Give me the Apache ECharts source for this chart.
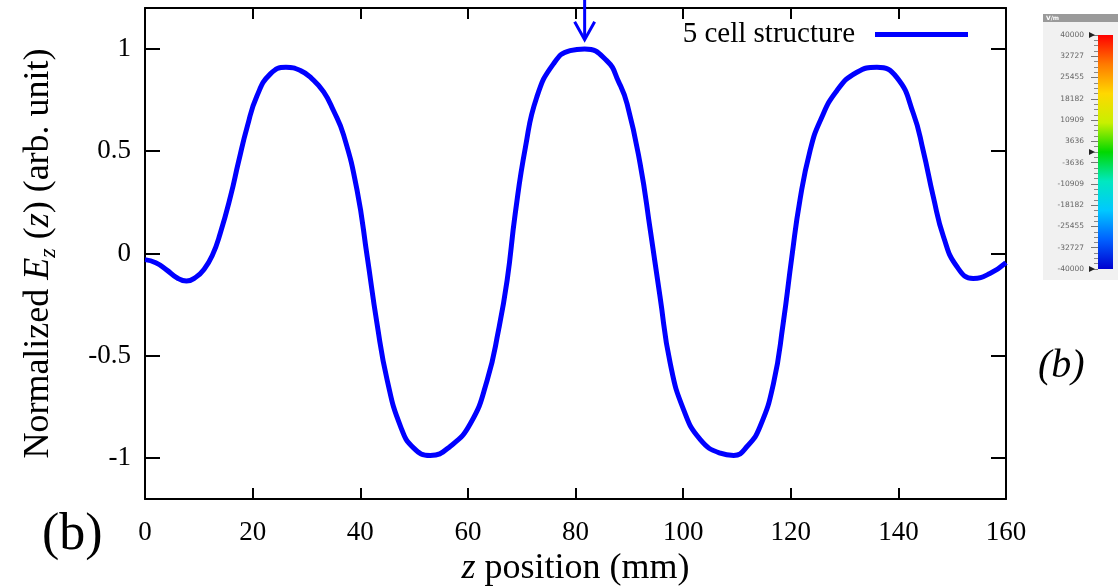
<!DOCTYPE html>
<html>
<head>
<meta charset="utf-8">
<script src="https://cdn.jsdelivr.net/npm/echarts@6/dist/echarts.min.js"></script>
<style>
  html, body { margin: 0; padding: 0; background: #fff; }
  #chart { width: 1118px; height: 587px; }
</style>
</head>
<body>
<div id="chart"></div>
<script>
// z position (mm) and normalized Ez
const zPos = [0, 2, 4, 6, 7.7, 9.5, 10.9, 12.5, 14.0, 15.9, 17.4, 19.0, 20.8, 23.3, 26.2, 28.9, 31, 33.2, 35, 36.9,
  39.4, 41.3, 43.1, 45.0, 47.5, 49.9, 53.0, 56.7, 60.5, 63.6, 65.7, 67.3, 68.8, 70.7, 72.8, 75.9, 79.0, 81.7,
  85.8, 88, 89.6, 92.0, 93.9, 95.7, 97.6, 100.1, 103.2, 106.9, 109.4, 112, 114.3, 116.8, 118.6, 120.2, 121.7,
  123.6, 125.5, 128.6, 132.3, 136.0, 139.7, 142.8, 144.6, 146.5, 148.4, 150.9, 153.9, 157.0, 160];
const ezVals = [-0.03, -0.045, -0.08, -0.12, -0.135, -0.115, -0.08, -0.01, 0.10, 0.28, 0.45, 0.62, 0.77, 0.878, 0.91, 0.894, 0.855, 0.79, 0.70, 0.58,
  0.31, -0.017, -0.34, -0.618, -0.846, -0.95, -0.987, -0.943, -0.83, -0.618, -0.374, -0.13, 0.195, 0.52, 0.764, 0.927, 0.992, 1.0,
  0.943, 0.84, 0.73, 0.44, 0.114, -0.21, -0.537, -0.764, -0.91, -0.976, -0.987, -0.94, -0.846, -0.634, -0.34, -0.017, 0.26,
  0.504, 0.65, 0.797, 0.886, 0.91, 0.861, 0.683, 0.504, 0.276, 0.081, -0.065, -0.122, -0.098, -0.045];

const xTicks = [0, 160, 20];        // min, max, step
const yRange = [-1.2, 1.2];
const seriesName = '5 cell structure';

// colour scale on the right (V/m)
const scaleRange = [-40000, 40000];
const scaleSteps = 11;
const scaleColors = ['#ff0000', '#ff7a00', '#ffd800', '#c8f000', '#00d800', '#00e8c0', '#00c8ff', '#0060ff', '#0000d0'];

// arrow above the centre peak (data coords)
const arrowZ = 81.7;
const arrowTop = 1.245;
const arrowTip = 1.045;

const serif = '"Liberation Serif", "DejaVu Serif", serif';
const blue = '#0000ff';

const lineData = zPos.map((z, i) => [z, ezVals[i]]);

const chart = echarts.init(document.getElementById('chart'));

const mainGrid = { left: 145, right: 112, top: 8, bottom: 88, outerBoundsMode: 'none', containLabel: false };
const barGrid = { left: 1098, top: 35, width: 15, height: 234, outerBoundsMode: 'none', containLabel: false };

const axisLine = { show: true, onZero: false, lineStyle: { color: '#000', width: 2 } };

chart.setOption({
  animation: false,
  backgroundColor: '#fff',
  grid: [mainGrid, barGrid],
  legend: {
    data: [seriesName],
    right: 150,
    top: 20,
    padding: 0,
    align: 'right',
    icon: 'rect',
    itemWidth: 93,
    itemHeight: 5,
    textStyle: { fontFamily: serif, fontSize: 29, color: '#000', padding: [0, 15, 0, 0] }
  },
  xAxis: [
    {
      type: 'value', gridIndex: 0, position: 'bottom',
      min: xTicks[0], max: xTicks[1], interval: xTicks[2],
      axisLine: axisLine,
      axisTick: { show: true, inside: true, length: 11, lineStyle: { color: '#000', width: 2 } },
      splitLine: { show: false },
      axisLabel: { margin: 20, fontFamily: serif, fontSize: 27, color: '#000' },
      name: '{i|z} position (mm)',
      nameLocation: 'middle',
      nameGap: 51,
      nameTextStyle: {
        fontFamily: serif, fontSize: 36, color: '#000',
        rich: { i: { fontFamily: serif, fontSize: 36, fontStyle: 'italic', color: '#000' } }
      }
    },
    {
      type: 'value', gridIndex: 0, position: 'top',
      min: xTicks[0], max: xTicks[1], interval: xTicks[2],
      axisLine: axisLine,
      axisTick: { show: true, inside: true, length: 11, lineStyle: { color: '#000', width: 2 } },
      splitLine: { show: false },
      axisLabel: { show: false }
    },
    {
      type: 'value', gridIndex: 1, min: 0, max: 1, show: false
    }
  ],
  yAxis: [
    {
      type: 'value', gridIndex: 0, position: 'left',
      min: yRange[0], max: yRange[1], splitNumber: 5,
      axisLine: axisLine,
      axisTick: { show: true, inside: true, length: 15, lineStyle: { color: '#000', width: 2 } },
      splitLine: { show: false },
      axisLabel: {
        margin: 14, fontFamily: serif, fontSize: 27, color: '#000',
        showMinLabel: false, showMaxLabel: false
      },
      name: 'Normalized {i|E}{sub|z} ({i|z}) (arb. unit)',
      nameLocation: 'middle',
      nameRotate: 90,
      nameGap: 84,
      nameTextStyle: {
        fontFamily: serif, fontSize: 36, color: '#000', lineHeight: 44,
        rich: {
          i: { fontFamily: serif, fontSize: 36, fontStyle: 'italic', color: '#000', lineHeight: 44 },
          sub: { fontFamily: serif, fontSize: 24, fontStyle: 'italic', color: '#000', verticalAlign: 'bottom', lineHeight: 28 }
        }
      }
    },
    {
      type: 'value', gridIndex: 0, position: 'right',
      min: yRange[0], max: yRange[1], splitNumber: 5,
      axisLine: axisLine,
      axisTick: { show: true, inside: true, length: 15, lineStyle: { color: '#000', width: 2 } },
      splitLine: { show: false },
      axisLabel: { show: false }
    },
    {
      type: 'value', gridIndex: 1, position: 'left',
      min: scaleRange[0], max: scaleRange[1],
      interval: (scaleRange[1] - scaleRange[0]) / scaleSteps,
      axisLine: { show: false },
      axisTick: { show: true, length: 7, lineStyle: { color: '#777', width: 1 } },
      minorTick: { show: true, splitNumber: 4, length: 4, lineStyle: { color: '#888', width: 1 } },
      splitLine: { show: false },
      axisLabel: {
        margin: 14, fontFamily: '"DejaVu Sans", sans-serif', fontSize: 7.5, color: '#666',
        formatter: v => String(Math.round(v))
      }
    }
  ],
  series: [
    {
      name: seriesName,
      type: 'line',
      xAxisIndex: 0,
      yAxisIndex: 0,
      data: lineData,
      showSymbol: false,
      symbol: 'none',
      smooth: 0.5,
      lineStyle: { color: blue, width: 5 },
      itemStyle: { color: blue }
    }
  ]
});

// decorations: arrow, colour bar panel, panel labels
const arrowTipPx = chart.convertToPixel({ gridIndex: 0 }, [arrowZ, arrowTip]);
const arrowTopPx = chart.convertToPixel({ gridIndex: 0 }, [arrowZ, arrowTop]);
const barTopPx = chart.convertToPixel({ gridIndex: 1 }, [0, scaleRange[1]]);
const barBotPx = chart.convertToPixel({ gridIndex: 1 }, [1, scaleRange[0]]);
const barMidPx = chart.convertToPixel({ gridIndex: 1 }, [0, 0]);

const stops = scaleColors.map((c, i) => ({ offset: i / (scaleColors.length - 1), color: c }));

function marker(y) {
  return {
    type: 'polygon', z: 20,
    shape: { points: [[barTopPx[0] - 9, y - 3], [barTopPx[0] - 9, y + 3], [barTopPx[0] - 3, y]] },
    style: { fill: '#222' }
  };
}

chart.setOption({
  graphic: [
    {
      type: 'line', z: 20,
      shape: { x1: arrowTopPx[0], y1: arrowTopPx[1], x2: arrowTipPx[0], y2: arrowTipPx[1] - 2 },
      style: { stroke: blue, lineWidth: 3 }
    },
    {
      type: 'polyline', z: 20,
      shape: { points: [[arrowTipPx[0] - 10, arrowTipPx[1] - 18], [arrowTipPx[0], arrowTipPx[1]], [arrowTipPx[0] + 10, arrowTipPx[1] - 18]] },
      style: { stroke: blue, lineWidth: 3, fill: null }
    },
    {
      type: 'rect', z: -10,
      shape: { x: 1043, y: 14, width: 75, height: 266 },
      style: { fill: '#f1f1f1' }
    },
    {
      type: 'rect', z: -9,
      shape: { x: 1043, y: 14, width: 75, height: 8 },
      style: { fill: '#9a9a9a' }
    },
    {
      type: 'text', z: 5,
      style: { x: 1046, y: 15, text: 'V/m', fill: '#fff', font: 'bold 6px "DejaVu Sans", sans-serif' }
    },
    {
      type: 'rect', z: 5,
      shape: { x: barTopPx[0], y: barTopPx[1], width: barBotPx[0] - barTopPx[0], height: barBotPx[1] - barTopPx[1] },
      style: { fill: new echarts.graphic.LinearGradient(0, 0, 0, 1, stops) }
    },
    marker(barTopPx[1]),
    marker(barMidPx[1]),
    marker(barBotPx[1]),
    {
      type: 'text', z: 5,
      style: { x: 42, y: 509, text: '(b)', fill: '#000', font: '52px "Liberation Serif", serif' }
    },
    {
      type: 'text', z: 5,
      style: { x: 1038, y: 346, text: '(b)', fill: '#000', font: 'italic 40px "Liberation Serif", serif' }
    }
  ]
});
</script>
</body>
</html>
